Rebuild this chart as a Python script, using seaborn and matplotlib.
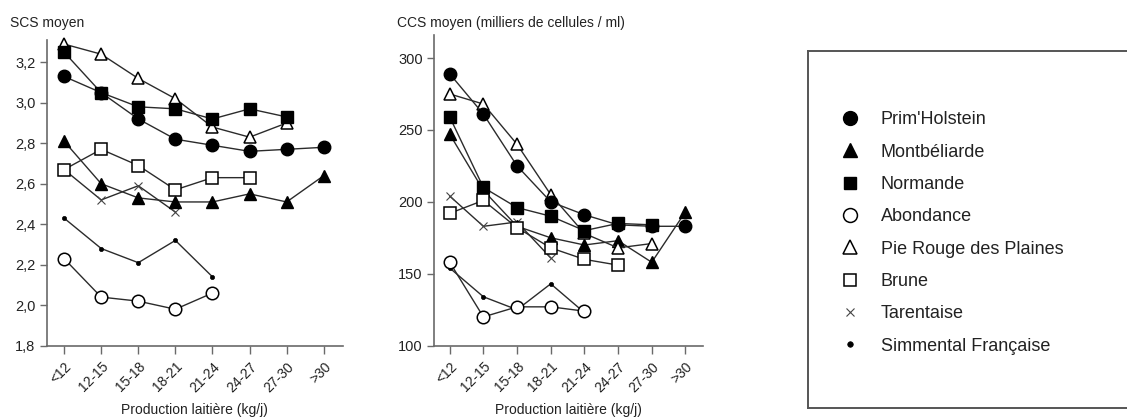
import numpy as np
import pandas as pd
import matplotlib
matplotlib.use("Agg")
import matplotlib.pyplot as plt
from matplotlib.lines import Line2D
import seaborn as sns

sns.set_theme(style="white")
plt.rcParams['font.family'] = ['Liberation Sans', 'DejaVu Sans']

categories = ["<12", "12-15", "15-18", "18-21", "21-24", "24-27", "27-30", ">30"]
breeds = ["Prim'Holstein", "Montbéliarde", "Normande", "Abondance",
          "Pie Rouge des Plaines", "Brune", "Tarentaise", "Simmental Française"]

# SCS moyen (left panel)
scs_prim = [3.13, 3.05, 2.92, 2.82, 2.79, 2.76, 2.77, 2.78]
scs_mont = [2.81, 2.60, 2.53, 2.51, 2.51, 2.55, 2.51, 2.64]
scs_norm = [3.25, 3.05, 2.98, 2.97, 2.92, 2.97, 2.93]
scs_abon = [2.23, 2.04, 2.02, 1.98, 2.06]
scs_pier = [3.29, 3.24, 3.12, 3.02, 2.88, 2.83, 2.90]
scs_brun = [2.67, 2.77, 2.69, 2.57, 2.63, 2.63]
scs_tare = [2.67, 2.52, 2.59, 2.46]
scs_simm = [2.43, 2.28, 2.21, 2.32, 2.14]

# CCS moyen (right panel, milliers de cellules / ml)
ccs_prim = [289, 261, 225, 200, 191, 184, 183, 183]
ccs_mont = [247, 208, 183, 175, 170, 173, 158, 193]
ccs_norm = [259, 210, 196, 190, 180, 185, 184]
ccs_abon = [158, 120, 127, 127, 124]
ccs_pier = [275, 268, 240, 205, 178, 168, 171]
ccs_brun = [192, 201, 182, 168, 160, 156]
ccs_tare = [204, 183, 186, 161]
ccs_simm = [154, 134, 125, 143, 123]

scs_values = [scs_prim, scs_mont, scs_norm, scs_abon, scs_pier, scs_brun, scs_tare, scs_simm]
ccs_values = [ccs_prim, ccs_mont, ccs_norm, ccs_abon, ccs_pier, ccs_brun, ccs_tare, ccs_simm]

scs_ticks = [1.8, 2.0, 2.2, 2.4, 2.6, 2.8, 3.0, 3.2]
ccs_ticks = [100, 150, 200, 250, 300]

line_col = "#2b2b2b"
txt_col = "#222222"
spine_col = "#6a6a6a"

styles = {
    "Prim'Holstein": dict(marker="o", ms=9, mfc="black", mec="black", mew=1.0, z=5),
    "Montbéliarde": dict(marker="^", ms=9, mfc="black", mec="black", mew=1.0, z=4),
    "Normande": dict(marker="s", ms=8, mfc="black", mec="black", mew=1.0, z=7),
    "Abondance": dict(marker="o", ms=9, mfc="white", mec="black", mew=1.1, z=4),
    "Pie Rouge des Plaines": dict(marker="^", ms=9, mfc="white", mec="black", mew=1.1, z=4),
    "Brune": dict(marker="s", ms=8, mfc="white", mec="black", mew=1.1, z=4.5),
    "Tarentaise": dict(marker="x", ms=6, mfc="black", mec="#444444", mew=0.8, z=3),
    "Simmental Française": dict(marker="o", ms=3, mfc="black", mec="black", mew=0.5, z=3),
}

rows = []
for panel, vals in (("scs", scs_values), ("ccs", ccs_values)):
    for b, v in zip(breeds, vals):
        for i, val in enumerate(v):
            rows.append(dict(panel=panel, breed=b, pos=i, cat=categories[i], value=val))
df = pd.DataFrame(rows)

fig = plt.figure(figsize=(11.27, 4.19), dpi=100)
ax1 = fig.add_axes([0.0414, 0.175, 0.263, 0.7295])
ax2 = fig.add_axes([0.385, 0.175, 0.2387, 0.7415])


def draw(ax, panel):
    for b in breeds:
        st = styles[b]
        sub = df[(df.panel == panel) & (df.breed == b)]
        sns.lineplot(data=sub, x="pos", y="value", ax=ax, sort=False,
                     color=line_col, linewidth=1.0, marker=st["marker"],
                     markersize=st["ms"], markerfacecolor=st["mfc"],
                     markeredgecolor=st["mec"], markeredgewidth=st["mew"],
                     zorder=st["z"], legend=False, errorbar=None, clip_on=False)
    ax.set_xticks(range(len(categories)))
    ax.set_xticklabels(categories, rotation=45, ha="right", rotation_mode="anchor",
                       fontsize=10, color=txt_col)
    ax.set_xlim(-0.47, 7.52)
    ax.set_xlabel("Production laitière (kg/j)", fontsize=10, color=txt_col, labelpad=6)
    ax.set_ylabel("")
    for s in ("top", "right"):
        ax.spines[s].set_visible(False)
    for s in ("left", "bottom"):
        ax.spines[s].set_color(spine_col)
        ax.spines[s].set_linewidth(1.2)
    ax.tick_params(axis="x", direction="out", length=6, width=1.0, color=spine_col,
                   pad=4, bottom=True)
    ax.tick_params(axis="y", direction="out", length=5, width=1.0, color=spine_col,
                   labelsize=10.5, labelcolor=txt_col, left=True, pad=3)
    ax.grid(False)


draw(ax1, "scs")
ax1.set_ylim(1.8, 3.31)
ax1.set_yticks(scs_ticks)
ax1.set_yticklabels([f"{t:.1f}".replace(".", ",") for t in scs_ticks])

draw(ax2, "ccs")
ax2.set_ylim(100, 316)
ax2.set_yticks(ccs_ticks)
ax2.set_yticklabels([str(t) for t in ccs_ticks])

fig.text(10 / 1127, 1 - 22.7 / 419, "SCS moyen", fontsize=10, color=txt_col,
         va="center", ha="left")
fig.text(397 / 1127, 1 - 22.7 / 419, "CCS moyen (milliers de cellules / ml)",
         fontsize=10, color=txt_col, va="center", ha="left")

# legend box
box_l, box_t, box_b = 808 / 1127, 1 - 51 / 419, 1 - 408 / 419
axl = fig.add_axes([box_l, box_b, 1.0 - box_l + 0.01, box_t - box_b])
axl.set_xticks([])
axl.set_yticks([])
for s in axl.spines.values():
    s.set_color("#555555")
    s.set_linewidth(1.4)
axl.set_xlim(0, 1)
axl.set_ylim(0, 1)
handles = []
for b in breeds:
    st = styles[b]
    handles.append(Line2D([], [], linestyle="none", marker=st["marker"],
                          markersize=st["ms"] + 1 if b != "Tarentaise" else 6,
                          markerfacecolor=st["mfc"], markeredgecolor=st["mec"],
                          markeredgewidth=st["mew"]))
leg = axl.legend(handles, breeds, loc="center left", bbox_to_anchor=(0.045, 0.49),
                 frameon=False, fontsize=13, labelspacing=0.85, handletextpad=1.1,
                 handlelength=1.2)
for t in leg.get_texts():
    t.set_color(txt_col)

fig.savefig("out.png", dpi=100)
